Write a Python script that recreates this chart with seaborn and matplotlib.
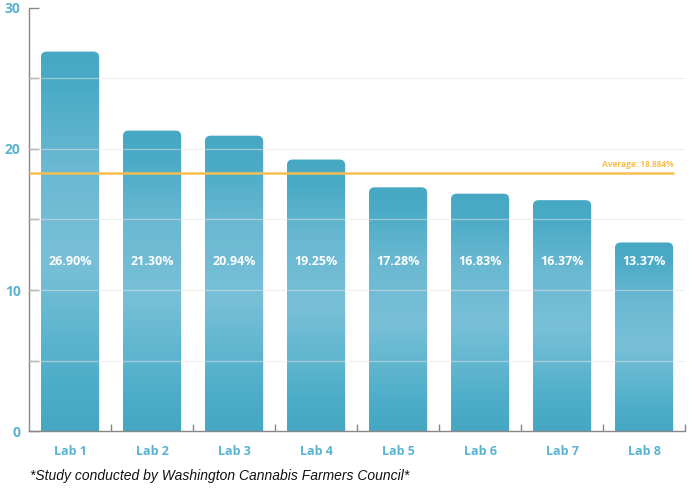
import numpy as np
import pandas as pd
import matplotlib
matplotlib.use("Agg")
import matplotlib.pyplot as plt
from matplotlib.patches import FancyBboxPatch
from matplotlib.colors import LinearSegmentedColormap
import seaborn as sns

# données
labs = ["Lab 1", "Lab 2", "Lab 3", "Lab 4", "Lab 5", "Lab 6", "Lab 7", "Lab 8"]
values = [26.90, 21.30, 20.94, 19.25, 17.28, 16.83, 16.37, 13.37]
avg_line = 18.3
avg_label = "Average: 18.884%"
footnote = "*Study conducted by Washington Cannabis Farmers Council*"

blue_txt = "#5AB3D0"
orange = "#F8BE52"

sns.set_style("white")
plt.rcParams["font.family"] = ["Open Sans", "DejaVu Sans"]

df = pd.DataFrame({"lab": labs, "value": values})

fig = plt.figure(figsize=(6.92, 4.91), dpi=100)
ax = fig.add_axes([0.042, 0.122, 0.948, 0.862])

sns.barplot(data=df, x="lab", y="value", ax=ax, width=0.71, color="#4AABC6", zorder=2)

# dégradé vertical + coins arrondis
cmap = LinearSegmentedColormap.from_list(
    "bar", [(0.0, "#46A7C3"), (0.12, "#4DADC8"), (0.45, "#78C0D8"),
            (0.7, "#6AB8D2"), (0.9, "#4BABC6"), (1.0, "#47A8C4")])
grad = np.linspace(0, 1, 256).reshape(-1, 1)
for p, v in zip(ax.patches, values):
    x0, w = p.get_x(), p.get_width()
    p.set_visible(False)
    fb = FancyBboxPatch((x0, -2), w, v + 2,
                        boxstyle="round,pad=0,rounding_size=0.07",
                        mutation_aspect=5.8, facecolor="none", edgecolor="none",
                        transform=ax.transData)
    ax.add_patch(fb)
    im = ax.imshow(grad, cmap=cmap, origin="lower", aspect="auto",
                   extent=(x0, x0 + w, 0, v), zorder=2, interpolation="bilinear")
    im.set_clip_path(fb)
    ax.text(x0 + w / 2, 12, f"{v:.2f}%", ha="center", va="center",
            color="white", fontsize=9, fontweight="bold", zorder=5)

ax.set_xlim(-0.5, 7.5)
ax.set_ylim(0, 30)

# lignes de grille par-dessus les barres
for gy in [5, 10, 15, 20, 25]:
    ax.axhline(gy, color="#e4e4e4", lw=0.9, alpha=0.55, zorder=3)

ax.hlines(avg_line, -0.5, 7.36, color=orange, lw=1.8, zorder=4)
ax.text(7.36, avg_line + 0.25, avg_label, ha="right", va="bottom",
        color=orange, fontsize=6, fontweight="bold")

sns.despine(ax=ax)
for s in ["left", "bottom"]:
    ax.spines[s].set_color("#888888")
    ax.spines[s].set_linewidth(1.0)

ax.set_yticks(range(0, 31, 5))
ax.set_yticklabels(["0", "", "10", "", "20", "", "30"])
ax.tick_params(axis="y", direction="in", length=7, width=1, color="#888888",
               labelcolor=blue_txt, labelsize=10, pad=6, left=True)
for t in ax.get_yticklabels():
    t.set_fontweight("bold")

ax.set_xticks(np.arange(8))
ax.set_xticklabels(labs)
ax.tick_params(axis="x", length=0, labelcolor=blue_txt, labelsize=9, pad=10)
for t in ax.get_xticklabels():
    t.set_fontweight("bold")
ax.set_xticks(np.arange(8) + 0.5, minor=True)
ax.tick_params(axis="x", which="minor", direction="in", length=5, width=1,
               color="#888888", bottom=True)

ax.set_xlabel("")
ax.set_ylabel("")

fig.text(0.043, 0.022, footnote, fontsize=10, style="italic",
         family=["Liberation Sans", "DejaVu Sans"], color="#111111")

plt.savefig("out.png", dpi=100)
